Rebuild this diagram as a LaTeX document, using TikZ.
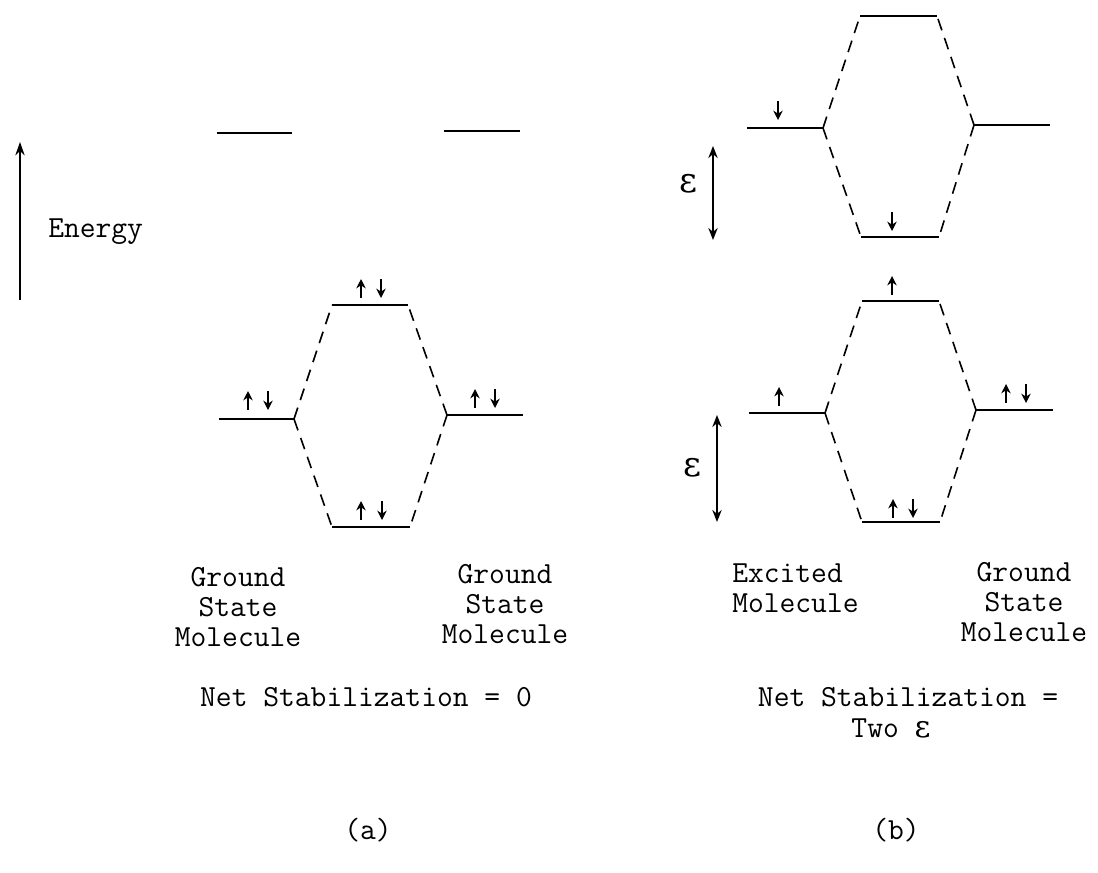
\documentclass[tikz,border=0pt]{standalone}
\usepackage{fontspec}
\newfontfamily\epsfont{DejaVu Serif}
\usetikzlibrary{arrows.meta}
\begin{document}
\begin{tikzpicture}[x=0.75pt,y=-0.75pt,
  level/.style={line width=1.7pt},
  corr/.style={line width=1.2pt,dash pattern=on 9pt off 6pt},
  spin/.style={line width=1.4pt,-{Stealth[length=7pt,width=7pt]}},
  gap/.style={line width=1.4pt,{Stealth[length=9pt,width=7pt]}-{Stealth[length=9pt,width=7pt]}},
  lbl/.style={font=\fontsize{23}{22.5}\selectfont\ttfamily,align=center,inner sep=0pt},
  eps/.style={font=\fontsize{26}{26}\selectfont\epsfont,inner sep=0pt}]
\useasboundingbox (0,0) rectangle (1098,872);

% Energy axis
\coordinate (eb) at (20,300);
\coordinate (et) at (20,142);
\draw[line width=1.3pt,-{Stealth[length=10pt,width=7pt]}] (eb) -- (et);
\node[lbl,anchor=west] (energy) at (48,232) {Energy};

% ---------- panel (a) ----------
\coordinate (a1l) at (217,133); \coordinate (a1r) at (292,133);
\coordinate (a2l) at (444,131); \coordinate (a2r) at (520,131);
\draw[level] (a1l) -- (a1r);
\draw[level] (a2l) -- (a2r);

\coordinate (aLl) at (219,419); \coordinate (aLr) at (294,419);
\coordinate (aRl) at (447,415); \coordinate (aRr) at (523,415);
\coordinate (aTl) at (332,305); \coordinate (aTr) at (408,305);
\coordinate (aBl) at (332,527); \coordinate (aBr) at (410,527);
\draw[level] (aLl) -- (aLr);
\draw[level] (aRl) -- (aRr);
\draw[level] (aTl) -- (aTr);
\draw[level] (aBl) -- (aBr);
\draw[corr] (aLr) -- (aTl);
\draw[corr] (aLr) -- (aBl);
\draw[corr] (aRl) -- (aTr);
\draw[corr] (aRl) -- (aBr);

% spins (a)
\draw[spin] (248,410) -- (248,391);  \draw[spin] (268,391) -- (268,410);
\draw[spin] (361,298) -- (361,279);  \draw[spin] (381,279) -- (381,298);
\draw[spin] (475,408) -- (475,389);  \draw[spin] (495,389) -- (495,408);
\draw[spin] (361,520) -- (361,501);  \draw[spin] (382,501) -- (382,520);

\node[lbl] (ga1) at (238,607) {Ground\\State\\Molecule};
\node[lbl] (ga2) at (505,604) {Ground\\State\\Molecule};
\node[lbl] (neta) at (366,697) {Net Stabilization = 0};
\node[lbl] (capa) at (368,830) {(a)};

% ---------- panel (b) upper ----------
\coordinate (uLl) at (747,128); \coordinate (uLr) at (823,128);
\coordinate (uRl) at (974,125); \coordinate (uRr) at (1050,125);
\coordinate (uTl) at (860,16);  \coordinate (uTr) at (937,16);
\coordinate (uBl) at (861,237); \coordinate (uBr) at (939,237);
\draw[level] (uLl) -- (uLr);
\draw[level] (uRl) -- (uRr);
\draw[level] (uTl) -- (uTr);
\draw[level] (uBl) -- (uBr);
\draw[corr] (uLr) -- (uTl);
\draw[corr] (uLr) -- (uBl);
\draw[corr] (uRl) -- (uTr);
\draw[corr] (uRl) -- (uBr);
\draw[spin] (778,101) -- (778,120);
\draw[spin] (892,212) -- (892,231);

\coordinate (g1t) at (713,146); \coordinate (g1b) at (713,240);
\draw[gap] (g1t) -- (g1b);
\node[eps] (e1) at (688,184) {ɛ};

% ---------- panel (b) lower ----------
\coordinate (lLl) at (749,413); \coordinate (lLr) at (825,413);
\coordinate (lRl) at (976,410); \coordinate (lRr) at (1053,410);
\coordinate (lTl) at (862,301); \coordinate (lTr) at (939,301);
\coordinate (lBl) at (862,522); \coordinate (lBr) at (940,522);
\draw[level] (lLl) -- (lLr);
\draw[level] (lRl) -- (lRr);
\draw[level] (lTl) -- (lTr);
\draw[level] (lBl) -- (lBr);
\draw[corr] (lLr) -- (lTl);
\draw[corr] (lLr) -- (lBl);
\draw[corr] (lRl) -- (lTr);
\draw[corr] (lRl) -- (lBr);
\draw[spin] (779,406) -- (779,387);
\draw[spin] (892,295) -- (892,276);
\draw[spin] (1006,403) -- (1006,384); \draw[spin] (1026,384) -- (1026,403);
\draw[spin] (893,518) -- (893,499);   \draw[spin] (913,499) -- (913,518);

\coordinate (g2t) at (717,415); \coordinate (g2b) at (717,522);
\draw[gap] (g2t) -- (g2b);
\node[eps] (e2) at (692,468) {ɛ};

\node[lbl,align=left,anchor=west] (exm) at (732,588) {Excited\\Molecule};
\node[lbl] (gb) at (1024,602) {Ground\\State\\Molecule};
\node[lbl] (netb) at (908,697) {Net Stabilization =};
\node[lbl] (twob) at (891,728) {Two {\epsfont ɛ}};
\node[lbl] (capb) at (896,830) {(b)};
\end{tikzpicture}
\end{document}
